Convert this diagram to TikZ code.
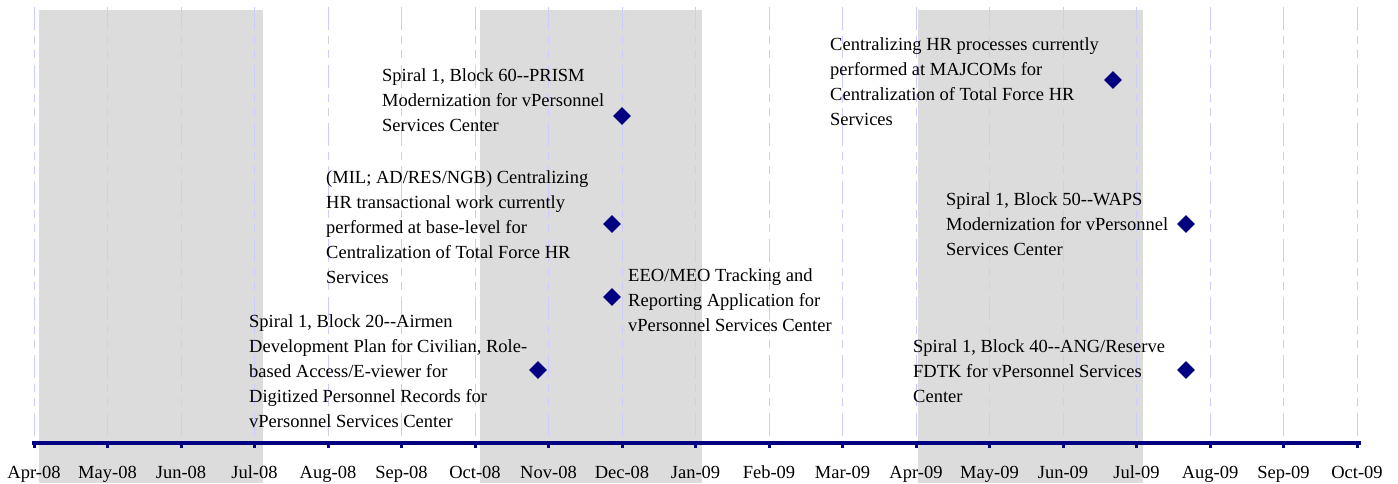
\documentclass[tikz,border=0pt]{standalone}
\usepackage{fontspec}
\setmainfont{Liberation Serif}
\usetikzlibrary{shapes.geometric}
\definecolor{navyc}{HTML}{000080}
\definecolor{bandgray}{HTML}{DCDCDC}
\definecolor{gridc}{HTML}{CCCCFF}
\begin{document}
\begin{tikzpicture}[x=1pt,y=-1pt,
  evtext/.style={anchor=base west, inner sep=0pt, font=\fontsize{18.5}{25}\selectfont},
  milestone/.style={diamond, fill=navyc, inner sep=0pt, minimum width=18pt, minimum height=18pt},
  monthlbl/.style={anchor=base, inner sep=0pt, font=\fontsize{18.5}{22}\selectfont},
  band/.style={fill=bandgray},
  gridline/.style={gridc, line width=1pt, dash pattern=on 23pt off 6pt on 8pt off 6pt on 8pt off 7pt},
  axisline/.style={navyc, line width=4pt},
  tickline/.style={navyc, line width=3pt}]
\useasboundingbox (0,0) rectangle (1398,483);
\fill[white] (0,0) rectangle (1398,483);
\fill[band] (39,10) rectangle (263,483);
\fill[band] (480,10) rectangle (702,483);
\fill[band] (918,10) rectangle (1143,483);
\foreach \i/\lab in {0/Apr-08,1/May-08,2/Jun-08,3/Jul-08,4/Aug-08,5/Sep-08,6/Oct-08,7/Nov-08,8/Dec-08,9/Jan-09,10/Feb-09,11/Mar-09,12/Apr-09,13/May-09,14/Jun-09,15/Jul-09,16/Aug-09,17/Sep-09,18/Oct-09}{
  \coordinate (g\i) at ({34+73.5*\i},7);
  \coordinate (k\i) at ({34+73.5*\i},443);
  \draw[gridline] (g\i) -- (k\i);
  \node[monthlbl] (m\i) at ({34+73.5*\i},478) {\lab};
}
\coordinate (axL) at (32,443);
\coordinate (axR) at (1361,443);
\draw[axisline] (axL) -- (axR);
\foreach \i in {0,...,18}{
  \draw[tickline] (k\i) -- ++(0,5);
}
% events
\node[evtext] (t1) at (382,81) {\begin{tabular}[t]{@{}l@{}}Spiral 1, Block 60-{}-PRISM\\Modernization for vPersonnel\\Services Center\end{tabular}};
\node[milestone] (e1) at (622,116) {};
\node[evtext] (t2) at (326,183) {\begin{tabular}[t]{@{}l@{}}(MIL; AD/RES/NGB) Centralizing\\HR transactional work currently\\performed at base-level for\\Centralization of Total Force HR\\Services\end{tabular}};
\node[milestone] (e2) at (612,224) {};
\node[evtext] (t3) at (628,281) {\begin{tabular}[t]{@{}l@{}}EEO/MEO Tracking and\\Reporting Application for\\vPersonnel Services Center\end{tabular}};
\node[milestone] (e3) at (612,297) {};
\node[evtext] (t4) at (249,327) {\begin{tabular}[t]{@{}l@{}}Spiral 1, Block 20-{}-Airmen\\Development Plan for Civilian, Role-\\based Access/E-viewer for\\Digitized Personnel Records for\\vPersonnel Services Center\end{tabular}};
\node[milestone] (e4) at (538,370) {};
\node[evtext] (t5) at (830,50) {\begin{tabular}[t]{@{}l@{}}Centralizing HR processes currently\\performed at MAJCOMs for\\Centralization of Total Force HR\\Services\end{tabular}};
\node[milestone] (e5) at (1113,80) {};
\node[evtext] (t6) at (946,205) {\begin{tabular}[t]{@{}l@{}}Spiral 1, Block 50-{}-WAPS\\Modernization for vPersonnel\\Services Center\end{tabular}};
\node[milestone] (e6) at (1186,224) {};
\node[evtext] (t7) at (913,352) {\begin{tabular}[t]{@{}l@{}}Spiral 1, Block 40-{}-ANG/Reserve\\FDTK for vPersonnel Services\\Center\end{tabular}};
\node[milestone] (e7) at (1186,370) {};
\end{tikzpicture}
\end{document}
